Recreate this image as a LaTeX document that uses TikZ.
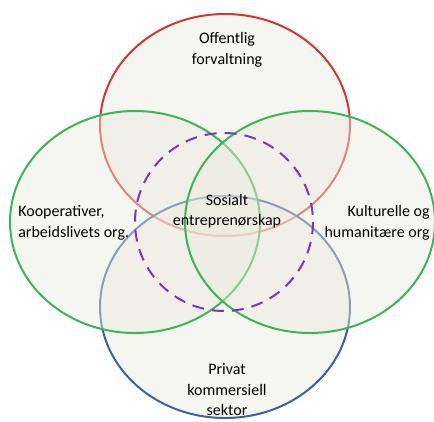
\documentclass[tikz,border=0pt]{standalone}
\usepackage{fontspec}
\setmainfont{Carlito}
\newdimen\unit
\tikzset{unit/.code={\unit=\dimexpr#1\relax}}
\tikzset{xy/.style={x={#1},y={(0,-#1)},unit={#1},font={\fontsize{1.6\unit}{2.05\unit}\selectfont},line width=.2\unit}}
\definecolor{vennfill}{RGB}{234,234,222}
\definecolor{offred}{RGB}{214,52,52}
\definecolor{privblue}{RGB}{62,96,160}
\definecolor{orggreen}{RGB}{62,180,88}
\definecolor{sospurple}{RGB}{122,52,200}
\begin{document}
\begin{tikzpicture}[xy=10pt]%
    \path [use as bounding box] (0,0) rectangle (43.4,42.1);
    % the four sectors
    \foreach \cx/\cy/\col in {22.5/12.5/offred,22.5/30.7/privblue,13.5/22.2/orggreen,31.0/22.2/orggreen} {
        \path [draw=\col, fill=vennfill, fill opacity=.45] (\cx,\cy) ellipse [x radius=12.5, y radius=11.1];
    }
    \path [draw=sospurple, dashed, dash pattern=on 1.2\unit off .8\unit] (22.4,22.2) circle [radius=8.9];
    \path (22.7,5.0) node [align=center] (offentlig) {Offentlig\\forvaltning};
    \path (1.4,22.3) node [anchor=west, align=left] (kooperativ) {Kooperativer,\\arbeidslivets org.};
    \path (43.4,22.3) node [anchor=east, align=right] (kultur) {Kulturelle og\\humanitære org};
    \path (22.7,21.1) node [align=center] (sosialt) {Sosialt\\entreprenørskap};
    \path (22.7,39.0) node [align=center] (privat) {Privat\\kommersiell\\sektor};
\end{tikzpicture}
\end{document}
